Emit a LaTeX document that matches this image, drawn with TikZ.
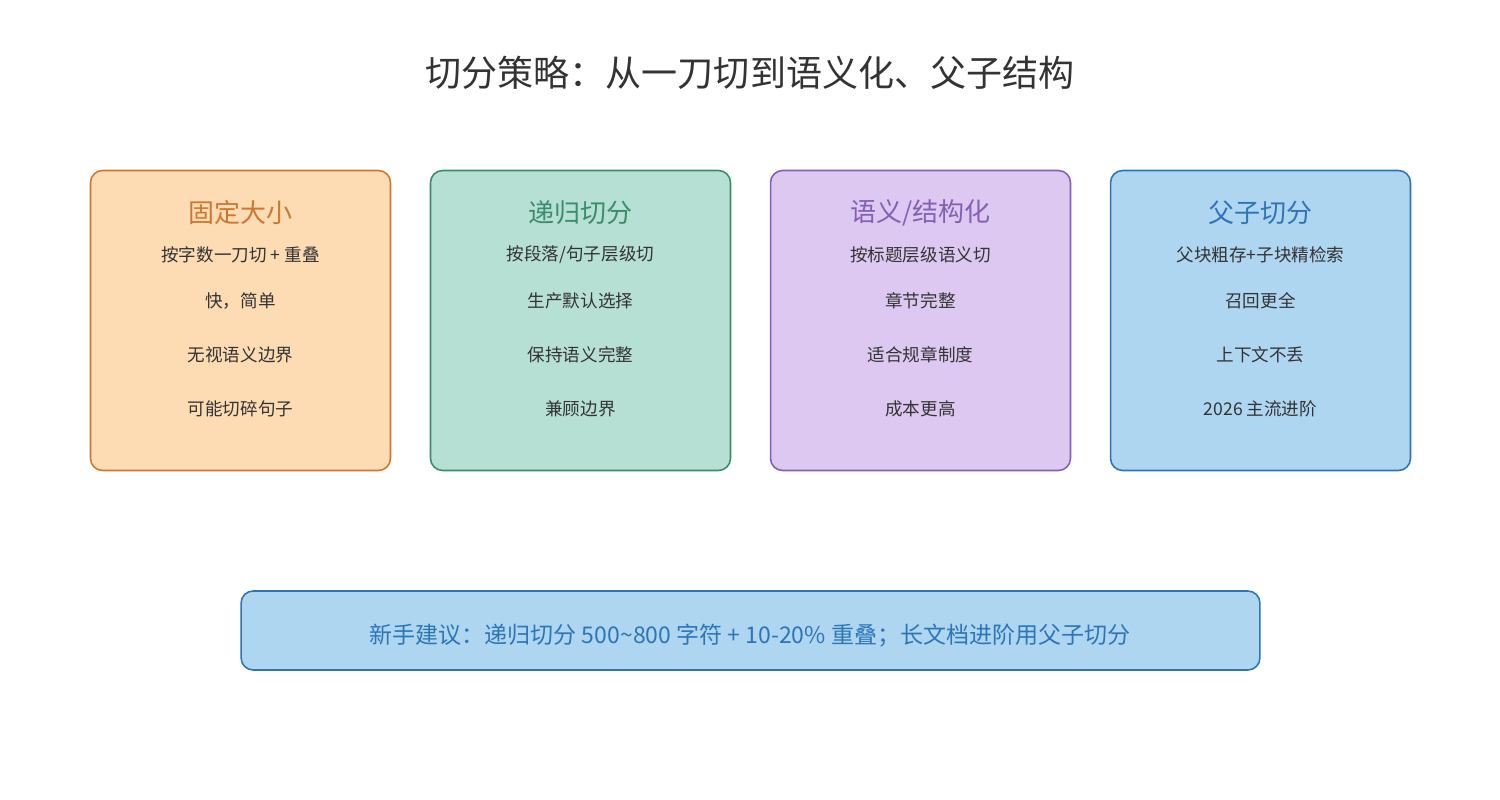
\documentclass[tikz,border=0pt]{standalone}
\usepackage{fontspec}
\setmainfont{Noto Sans CJK SC}
\definecolor{txtgray}{HTML}{333333}
\definecolor{orgfill}{HTML}{FDDBB3}
\definecolor{orgline}{HTML}{CC7833}
\definecolor{grnfill}{HTML}{B7E0D4}
\definecolor{grnline}{HTML}{3A8D6C}
\definecolor{purfill}{HTML}{DDC8F1}
\definecolor{purline}{HTML}{8360B2}
\definecolor{blufill}{HTML}{AED6F1}
\definecolor{bluline}{HTML}{2E75B6}
\begin{document}
\begin{tikzpicture}[x=0.02cm,y=-0.02cm,
  card/.style={draw, line width=0.9pt, rounded corners=0.24cm, minimum width=6cm, minimum height=6cm, inner sep=0pt},
  head/.style={font=\fontsize{14.8}{16}\selectfont},
  item/.style={text=txtgray, font=\fontsize{10}{12}\selectfont}]
\useasboundingbox (0,0) rectangle (1500,800);
\pgfmathsetmacro{\rowa}{255}
\pgfmathsetmacro{\rowb}{301}
\pgfmathsetmacro{\rowc}{355}
\pgfmathsetmacro{\rowd}{409}
\node[text=txtgray, font=\fontsize{20.5}{24}\selectfont] (title) at (750,73) {切分策略：从一刀切到语义化、父子结构};
\node[card, fill=orgfill, draw=orgline] (fixed) at (240.5,320.5) {};
\node[card, fill=grnfill, draw=grnline] (recur) at (580.5,320.5) {};
\node[card, fill=purfill, draw=purline] (seman) at (920.5,320.5) {};
\node[card, fill=blufill, draw=bluline] (parent) at (1260.5,320.5) {};
\node[head, text=orgline] (fixedhead) at (240.5,213) {固定大小};
\node[item] (fixeda) at (240.5,\rowa) {按字数一刀切 + 重叠};
\node[item] (fixedb) at (240.5,\rowb) {快，简单};
\node[item] (fixedc) at (240.5,\rowc) {无视语义边界};
\node[item] (fixedd) at (240.5,\rowd) {可能切碎句子};
\node[head, text=grnline] (recurhead) at (580.5,213) {递归切分};
\node[item] (recura) at (580.5,\rowa) {按段落/句子层级切};
\node[item] (recurb) at (580.5,\rowb) {生产默认选择};
\node[item] (recurc) at (580.5,\rowc) {保持语义完整};
\node[item] (recurd) at (580.5,\rowd) {兼顾边界};
\node[head, text=purline] (semanhead) at (920.5,213) {语义/结构化};
\node[item] (semana) at (920.5,\rowa) {按标题层级语义切};
\node[item] (semanb) at (920.5,\rowb) {章节完整};
\node[item] (semanc) at (920.5,\rowc) {适合规章制度};
\node[item] (semand) at (920.5,\rowd) {成本更高};
\node[head, text=bluline] (parenthead) at (1260.5,213) {父子切分};
\node[item] (parenta) at (1260.5,\rowa) {父块粗存+子块精检索};
\node[item] (parentb) at (1260.5,\rowb) {召回更全};
\node[item] (parentc) at (1260.5,\rowc) {上下文不丢};
\node[item] (parentd) at (1260.5,\rowd) {2026 主流进阶};
\node[draw=bluline, fill=blufill, line width=0.9pt, rounded corners=0.24cm, minimum width=20.38cm, minimum height=1.58cm, inner sep=0pt] (advice) at (750.5,630.5) {};
\node[text=bluline, font=\fontsize{13.1}{15}\selectfont] (advicetext) at (750,636) {新手建议：递归切分 500\textasciitilde800 字符 + 10-20\% 重叠；长文档进阶用父子切分};
\end{tikzpicture}
\end{document}
